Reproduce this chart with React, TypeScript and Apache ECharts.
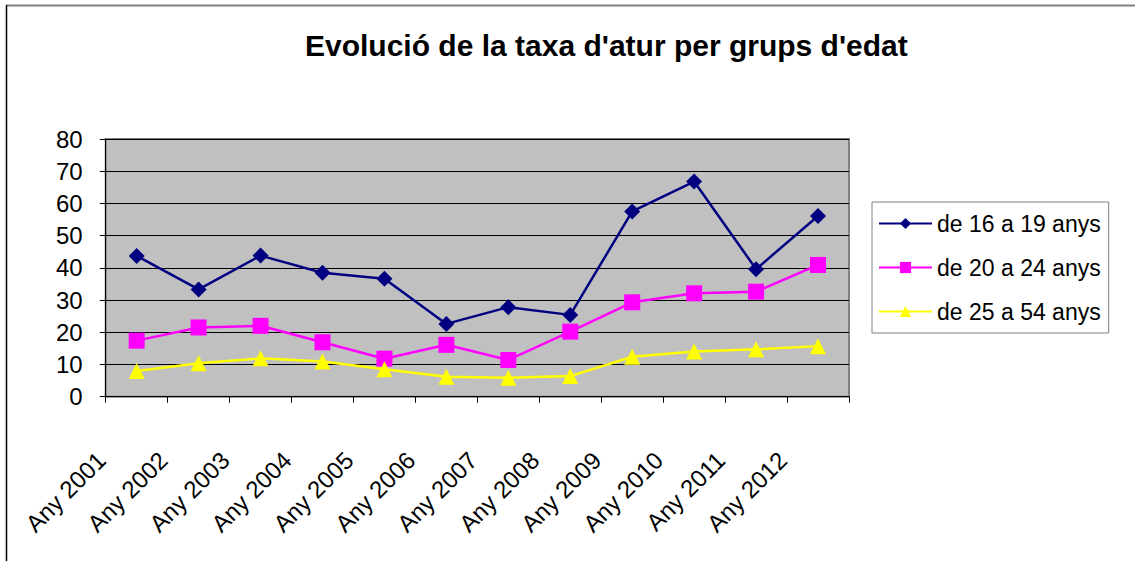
import React, { useEffect, useRef } from "react";
import * as echarts from "echarts";

const categories = [
  "Any 2001", "Any 2002", "Any 2003", "Any 2004", "Any 2005", "Any 2006",
  "Any 2007", "Any 2008", "Any 2009", "Any 2010", "Any 2011", "Any 2012",
];
const seriesNames = ["de 16 a 19 anys", "de 20 a 24 anys", "de 25 a 54 anys"];
const age16to19 = [43.7, 33.3, 43.8, 38.5, 36.6, 22.6, 27.8, 25.4, 57.5, 66.8, 39.6, 56.1];
const age20to24 = [17.4, 21.5, 22.0, 16.9, 11.8, 16.1, 11.4, 20.2, 29.3, 32.1, 32.6, 40.9];
const age25to54 = [8.0, 10.4, 11.9, 10.9, 8.5, 6.2, 5.9, 6.4, 12.4, 14.0, 14.7, 15.7];
const yTicks = { min: 0, max: 80, interval: 10 };

const FONT = '"Liberation Sans", Arial, sans-serif';

export default function App() {
  const ref = useRef<HTMLDivElement>(null);
  useEffect(() => {
    if (!ref.current) return;
    const chart = echarts.init(ref.current, null, { renderer: "svg" });
    chart.setOption({
      animation: false,
      backgroundColor: "#ffffff",
      textStyle: { fontFamily: FONT },
      title: {
        text: "Evolució de la taxa d'atur per grups d'edat",
        left: 305,
        top: 30,
        padding: 0,
        textStyle: { fontFamily: FONT, fontSize: 30, fontWeight: "bold", color: "#000" },
      },
      graphic: [
        { type: "line", shape: { x1: 6, y1: 5.5, x2: 1135, y2: 5.5 }, style: { stroke: "#808080", lineWidth: 2 } },
        { type: "line", shape: { x1: 6.5, y1: 5, x2: 6.5, y2: 561 }, style: { stroke: "#000000", lineWidth: 1.5 } },
      ],
      legend: {
        orient: "vertical",
        left: 872,
        top: 202,
        width: 236,
        padding: [10, 8, 10, 6],
        backgroundColor: "#ffffff",
        borderColor: "#808080",
        borderWidth: 1,
        itemWidth: 53,
        itemHeight: 14,
        itemGap: 21,
        textStyle: { fontFamily: FONT, fontSize: 23, color: "#000", lineHeight: 22, padding: [0, 0, 0, 0] },
        data: seriesNames,
      },
      grid: {
        left: 105.7,
        top: 139,
        right: 286,
        bottom: 164.3,
        show: true,
        backgroundColor: "#c0c0c0",
        borderColor: "#808080",
        borderWidth: 2,
      },
      xAxis: {
        type: "category",
        data: categories,
        boundaryGap: true,
        axisLine: { show: true, lineStyle: { color: "#000", width: 1 } },
        axisTick: { show: true, length: 6, lineStyle: { color: "#000" } },
        axisLabel: {
          rotate: 45,
          interval: 0,
          margin: 24,
          padding: [0, 50, 0, 0],
          fontFamily: FONT,
          fontSize: 24,
          color: "#000",
        },
        splitLine: { show: false },
      },
      yAxis: {
        type: "value",
        min: yTicks.min,
        max: yTicks.max,
        interval: yTicks.interval,
        axisLine: { show: true, lineStyle: { color: "#000", width: 1 } },
        axisTick: { show: true, length: 6, lineStyle: { color: "#000" } },
        axisLabel: { margin: 23, fontFamily: FONT, fontSize: 24, color: "#000" },
        splitLine: { show: true, lineStyle: { color: "#000", width: 1 } },
      },
      series: [
        {
          name: seriesNames[0],
          type: "line",
          data: age16to19,
          symbol: "diamond",
          symbolSize: 16,
          color: "#000080",
          lineStyle: { color: "#000080", width: 2.5 },
          itemStyle: { color: "#000080" },
        },
        {
          name: seriesNames[1],
          type: "line",
          data: age20to24,
          symbol: "rect",
          symbolSize: 16,
          color: "#ff00ff",
          lineStyle: { color: "#ff00ff", width: 2.5 },
          itemStyle: { color: "#ff00ff" },
        },
        {
          name: seriesNames[2],
          type: "line",
          data: age25to54,
          symbol: "triangle",
          symbolSize: 16,
          color: "#ffff00",
          lineStyle: { color: "#ffff00", width: 2.5 },
          itemStyle: { color: "#ffff00" },
        },
      ],
    });
    return () => chart.dispose();
  }, []);
  return (
    <div
      ref={ref}
      style={{ position: "absolute", left: 0, top: 0, width: 1135, height: 561 }}
    />
  );
}
